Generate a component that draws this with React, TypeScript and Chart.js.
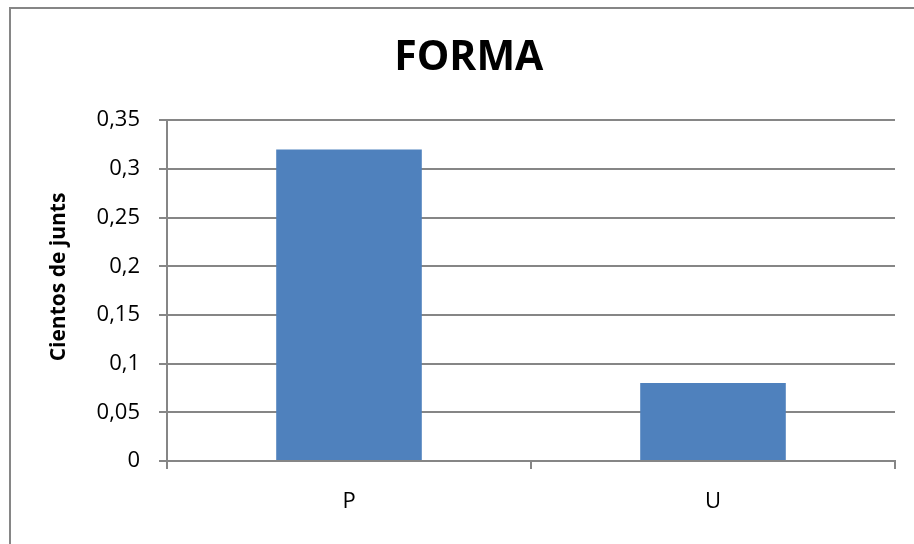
import React, { useEffect, useRef } from "react";
import { Chart, registerables } from "chart.js";

Chart.register(...registerables);

const categories = ["P", "U"];
const values = [0.32, 0.08];
const chartTitle = "FORMA";
const yAxisTitle = "Cientos de junts";
const yMin = 0;
const yMax = 0.35;
const yStep = 0.05;

const FONT = "'Open Sans', 'Liberation Sans', sans-serif";

export default function App() {
  const ref = useRef<HTMLCanvasElement | null>(null);

  useEffect(() => {
    if (!ref.current) return;
    const chart = new Chart(ref.current, {
      type: "bar",
      data: {
        labels: categories,
        datasets: [
          {
            data: values,
            backgroundColor: "#4F81BD",
            borderWidth: 0,
            categoryPercentage: 1,
            barPercentage: 0.4,
          },
        ],
      },
      options: {
        responsive: false,
        animation: false,
        devicePixelRatio: 1,
        layout: { padding: { top: 0, left: 0, right: 19, bottom: 0 } },
        plugins: {
          legend: { display: false },
          tooltip: { enabled: false },
          title: {
            display: true,
            text: "    " + chartTitle,
            color: "#000",
            font: { family: FONT, size: 41, weight: "bold" },
            padding: { top: 34, bottom: 37 },
          },
        },
        scales: {
          x: {
            grid: {
              offset: true,
              drawOnChartArea: false,
              drawTicks: true,
              tickLength: 8,
              color: "#868686",
              lineWidth: 2,
            },
            border: { display: true, color: "#868686", width: 2 },
            ticks: {
              color: "#000",
              font: { family: FONT, size: 22 },
              padding: 20,
              maxRotation: 0,
            },
            afterFit: (scale: any) => {
              scale.height = 83;
            },
          },
          y: {
            min: yMin,
            max: yMax,
            grid: {
              color: "#868686",
              lineWidth: 2,
              tickLength: 8,
              drawTicks: true,
            },
            border: { display: true, color: "#868686", width: 2 },
            ticks: {
              stepSize: yStep,
              color: "#000",
              padding: 19,
              font: { family: FONT, size: 22 },
              callback: (v: any) => {
                const n = Math.round(Number(v) * 100) / 100;
                return String(n).replace(".", ",");
              },
            },
            title: {
              display: true,
              text: "     " + yAxisTitle,
              color: "#000",
              font: { family: FONT, size: 21, weight: "bold" },
              padding: { top: 46, bottom: 0 },
            },
            afterFit: (scale: any) => {
              scale.width = 167;
            },
          },
        },
      },
    });
    return () => chart.destroy();
  }, []);

  return (
    <div style={{ position: "absolute", left: 0, top: 0, width: 914, height: 544, background: "#fff" }}>
      <canvas ref={ref} width={914} height={544} style={{ display: "block" }} />
      <div
        style={{
          position: "absolute",
          left: 9,
          top: 7,
          width: 914,
          height: 544,
          borderLeft: "2px solid #868686",
          borderTop: "2px solid #868686",
          pointerEvents: "none",
        }}
      />
    </div>
  );
}
